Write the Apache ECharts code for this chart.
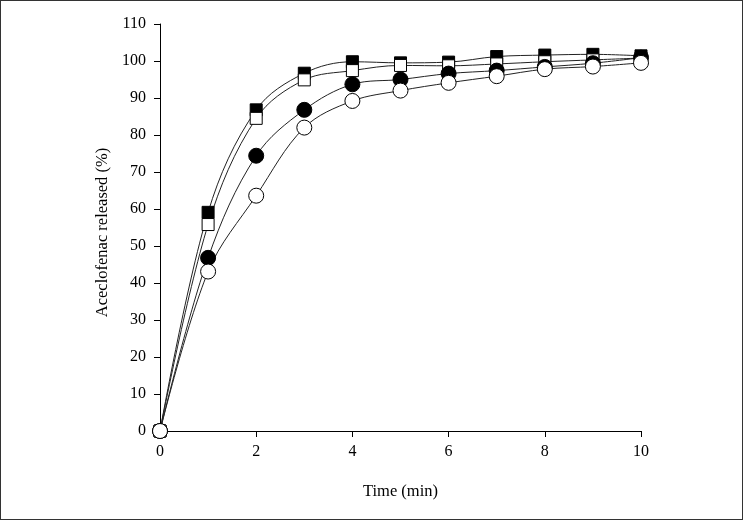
<!DOCTYPE html>
<html><head><meta charset="utf-8">
<script src="https://cdn.jsdelivr.net/npm/echarts@6/dist/echarts.min.js"></script>
<style>html,body{margin:0;padding:0;background:#fff}#c{width:743px;height:520px;box-sizing:border-box;border:1px solid #333}</style>
</head><body><div id="c"></div>
<script>
const times = [0,1,2,3,4,5,6,7,8,9,10];
const filledSquare = [0,59.1,86.8,96.7,99.8,99.5,99.7,101.2,101.6,101.8,101.4];
const hollowSquare = [0,55.8,84.5,94.9,97.4,98.8,98.7,99.2,99.8,100.3,100.8];
const filledCircle = [0,46.8,74.4,86.8,93.7,95.0,96.6,97.4,98.4,99.4,100.9];
const hollowCircle = [0,43.1,63.6,82.0,89.2,92.0,94.1,95.9,97.8,98.5,99.5];
const yTicks = {min:0,max:110,interval:10};
const xTicks = {min:0,max:10,interval:2};
const font = "'Liberation Serif','Times New Roman',serif";
function pts(v){return times.map((t,i)=>[t,v[i]]);}
function ser(name,data,symbol,size,fill){
  return {name,type:'line',data:pts(data),smooth:0.35,symbol,symbolSize:size,
    lineStyle:{color:'#222',width:1},itemStyle:{color:fill,borderColor:'#000',borderWidth:1},
    z:2,animation:false};
}
const chart = echarts.init(document.getElementById('c'),null,{renderer:'canvas'});
chart.setOption({
  backgroundColor:'#fff',
  grid:{left:159,right:101,top:23,bottom:88,containLabel:false},
  xAxis:{type:'value',min:xTicks.min,max:xTicks.max,interval:xTicks.interval,
    name:'Time (min)',nameLocation:'middle',nameGap:52,
    nameTextStyle:{fontFamily:font,fontSize:16.5,color:'#000'},
    axisLine:{show:true,lineStyle:{color:'#000',width:1}},
    axisTick:{show:true,inside:false,length:6,lineStyle:{color:'#000'}},
    axisLabel:{fontFamily:font,fontSize:16,color:'#000',margin:13},
    splitLine:{show:false}},
  yAxis:{type:'value',min:yTicks.min,max:yTicks.max,interval:yTicks.interval,
    name:'Aceclofenac released (%)',nameLocation:'middle',nameGap:41,nameRotate:90,
    nameTextStyle:{fontFamily:font,fontSize:16.5,color:'#000',padding:[0,10,0,0]},
    axisLine:{show:true,lineStyle:{color:'#000',width:1}},
    axisTick:{show:true,inside:false,length:6,lineStyle:{color:'#000'}},
    axisLabel:{fontFamily:font,fontSize:16,color:'#000',margin:14},
    splitLine:{show:false}},
  series:[
    ser('A',filledSquare,'rect',12,'#000'),
    ser('B',hollowSquare,'rect',12,'#fff'),
    ser('C',filledCircle,'circle',15,'#000'),
    ser('D',hollowCircle,'circle',15,'#fff')
  ]
});
</script></body></html>
